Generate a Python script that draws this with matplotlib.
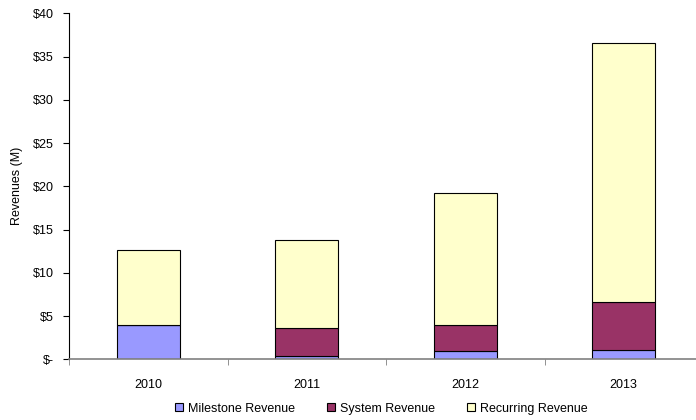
import numpy as np
import matplotlib
matplotlib.use("Agg")
import matplotlib.pyplot as plt
from matplotlib.patches import Patch

plt.rcParams['font.family'] = ['Liberation Sans', 'DejaVu Sans']

# data ($M)
years = ['2010', '2011', '2012', '2013']
milestone = [4.0, 0.35, 0.95, 1.05]
system = [0.0, 3.3, 3.0, 5.55]
recurring = [8.6, 10.1, 15.25, 29.95]
y_ticks = [0, 5, 10, 15, 20, 25, 30, 35, 40]
y_labels = ['$-', '$5', '$10', '$15', '$20', '$25', '$30', '$35', '$40']

fig = plt.figure(figsize=(6.96, 4.2), dpi=100)
ax = fig.add_axes([69 / 696, 60.7 / 420, 634 / 696, 346 / 420])

x = np.arange(len(years))
w = 0.395
bot2 = np.array(milestone)
bot3 = bot2 + np.array(system)
ax.bar(x, milestone, w, color='#9999FF', edgecolor='black', linewidth=0.8, label='Milestone Revenue')
ax.bar(x, system, w, bottom=bot2, color='#993366', edgecolor='black', linewidth=0.8, label='System Revenue')
ax.bar(x, recurring, w, bottom=bot3, color='#FFFFCC', edgecolor='black', linewidth=0.8, label='Recurring Revenue')

ax.set_xlim(-0.5, len(years) - 0.5)
ax.set_ylim(0, 40)
ax.set_yticks(y_ticks)
ax.set_yticklabels(y_labels, fontsize=9)
ax.set_xticks(x)
ax.set_xticklabels(years, fontsize=9)
ax.set_xticks(np.arange(len(years) + 1) - 0.5, minor=True)
ax.tick_params(axis='x', which='major', length=0, pad=14)
ax.tick_params(axis='x', which='minor', length=4, direction='out', color='#808080')
ax.tick_params(axis='y', length=4, direction='out', pad=7)
ax.set_ylabel('Revenues (M)', fontsize=9, labelpad=7)

for s in ['top', 'right']:
    ax.spines[s].set_visible(False)
ax.spines['bottom'].set_color('#808080')
ax.spines['bottom'].set_linewidth(1.2)
ax.spines['left'].set_color('black')
ax.spines['left'].set_linewidth(0.8)

handles = [Patch(facecolor='#9999FF', edgecolor='black', linewidth=0.8),
           Patch(facecolor='#993366', edgecolor='black', linewidth=0.8),
           Patch(facecolor='#FFFFCC', edgecolor='black', linewidth=0.8)]
fig.legend(handles, ['Milestone Revenue', 'System Revenue', 'Recurring Revenue'],
           loc='center', bbox_to_anchor=(0.548, 0.027), ncol=3, frameon=False,
           fontsize=9, handlelength=0.6, handleheight=0.6, handletextpad=0.4,
           columnspacing=2.6)

fig.savefig('out.png', dpi=100)
